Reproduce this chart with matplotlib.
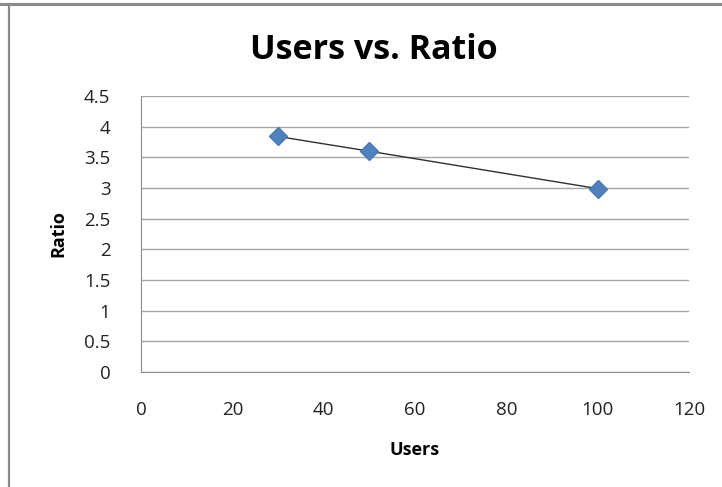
import matplotlib
matplotlib.use("Agg")
import matplotlib.pyplot as plt
from matplotlib.lines import Line2D

users = [30, 50, 100]
ratio = [3.84, 3.6, 2.99]

x_ticks = [0, 20, 40, 60, 80, 100, 120]
y_ticks = [0, 0.5, 1, 1.5, 2, 2.5, 3, 3.5, 4, 4.5]


def main():
    plt.rcParams['font.family'] = ['Open Sans', 'DejaVu Sans']
    fig = plt.figure(figsize=(7.22, 4.87), dpi=100)
    ax = fig.add_axes([0.1953, 0.2361, 0.7590, 0.5668])

    ax.plot(users, ratio, '-', color='#303030', linewidth=1.0, zorder=2)
    ax.plot(users, ratio, 'D', color='#4F81BD', markeredgecolor='#4A7AB5',
            markersize=9, zorder=3, linestyle='none')

    ax.set_xlim(0, 120)
    ax.set_ylim(0, 4.5)
    ax.set_xticks(x_ticks)
    ax.set_yticks(y_ticks)
    ax.set_xticklabels([str(v) for v in x_ticks])
    ax.set_yticklabels(['0', '0.5', '1', '1.5', '2', '2.5', '3', '3.5', '4', '4.5'])
    ax.tick_params(axis='both', length=0, labelsize=13.5, colors='#222222')
    ax.tick_params(axis='y', pad=22)
    ax.tick_params(axis='x', pad=21)

    ax.grid(axis='y', color='#a6a6a6', linewidth=1.0)
    ax.set_axisbelow(True)
    for side in ['top', 'right']:
        ax.spines[side].set_visible(False)
    ax.spines['left'].set_color('#8c8c8c')
    ax.spines['bottom'].set_color('#8c8c8c')

    ax.set_xlabel('Users', fontsize=13, fontweight='bold', labelpad=16)
    ax.set_ylabel('Ratio', fontsize=13, fontweight='bold', labelpad=12)
    fig.text(0.518, 0.897, 'Users vs. Ratio', ha='center', va='center',
             fontsize=24.5, fontweight='bold')

    # frame lines along the top and left edges
    fig.add_artist(Line2D([0, 1], [0.9928, 0.9928], color='#8a8a8a', linewidth=2.2))
    fig.add_artist(Line2D([0.0125, 0.0125], [0, 0.9928], color='#8a8a8a', linewidth=1.6))

    fig.savefig('out.png', dpi=100)


if __name__ == "__main__":
    main()
